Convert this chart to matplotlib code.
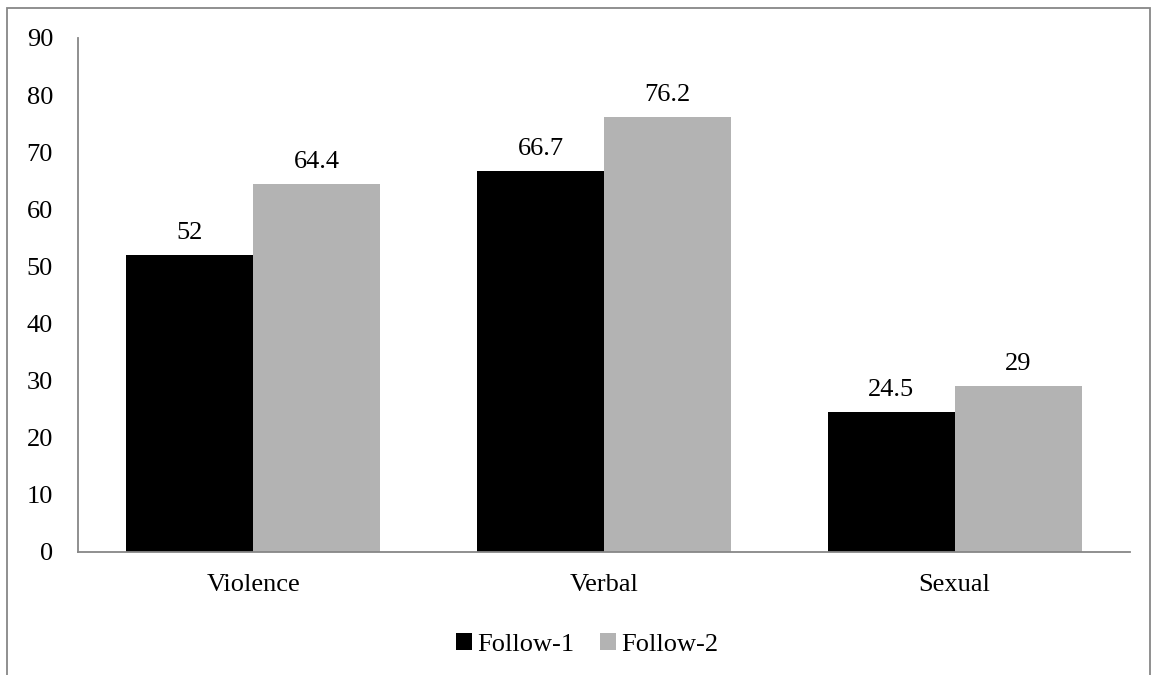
import numpy as np
import matplotlib.pyplot as plt

categories = ["Violence", "Verbal", "Sexual"]
follow1 = [52, 66.7, 24.5]
follow2 = [64.4, 76.2, 29]
series_names = ["Follow-1", "Follow-2"]
yticks = [0, 10, 20, 30, 40, 50, 60, 70, 80, 90]

plt.rcParams['font.family'] = ['Liberation Serif', 'DejaVu Serif']
FS = 19

fig = plt.figure(figsize=(11.52, 6.75), dpi=100)
ax = fig.add_axes([78 / 1152, 1 - 552 / 675, (1130 - 78) / 1152, (552 - 38) / 675])

x = np.arange(len(categories))
w = 0.362
b1 = ax.bar(x - w / 2, follow1, w, color="#000000", label=series_names[0])
b2 = ax.bar(x + w / 2, follow2, w, color="#b3b3b3", label=series_names[1])

for bars in (b1, b2):
    for rect in bars:
        h = rect.get_height()
        ax.annotate(f"{h:g}", (rect.get_x() + rect.get_width() / 2, h),
                    xytext=(0, 8), textcoords="offset points",
                    ha="center", va="bottom", fontsize=FS)

ax.set_xlim(-0.5, 2.5)
ax.set_ylim(0, 90)
ax.set_yticks(yticks)
ax.set_xticks(x)
ax.set_xticklabels(categories)
ax.tick_params(axis="both", length=0, labelsize=FS)
ax.tick_params(axis="y", pad=18)
ax.tick_params(axis="x", pad=16)

for s in ("top", "right"):
    ax.spines[s].set_visible(False)
for s in ("left", "bottom"):
    ax.spines[s].set_color("#878787")
    ax.spines[s].set_linewidth(1.3)

leg = ax.legend(loc="center", bbox_to_anchor=(0.484, -0.18), ncol=2, frameon=False,
                fontsize=FS, handlelength=0.6, handleheight=0.6,
                handletextpad=0.2, columnspacing=1.0)

# outer chart frame
frame = plt.Rectangle((7 / 1152, -0.05), (1150 - 7) / 1152, 1.05 - 8 / 675,
                      transform=fig.transFigure, fill=False,
                      edgecolor="#878787", linewidth=1.3)
fig.patches.append(frame)

fig.savefig("out.png", dpi=100)
